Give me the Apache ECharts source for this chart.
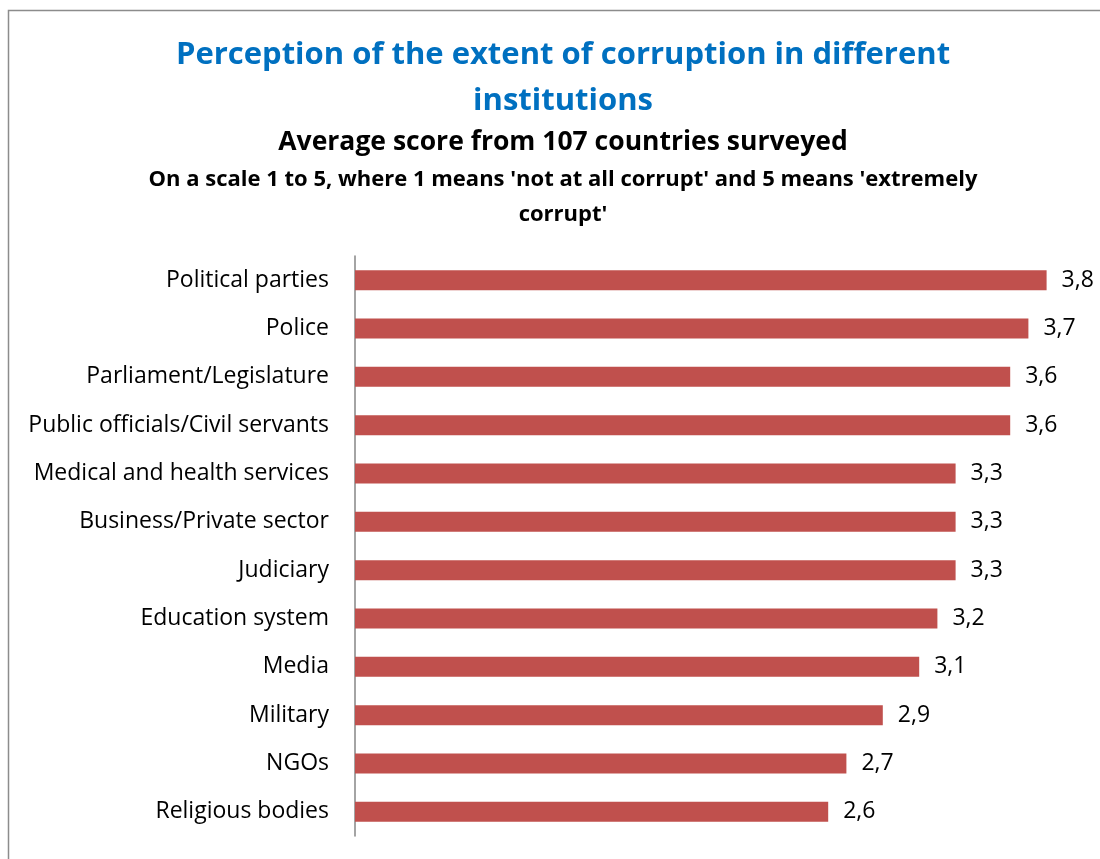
<!DOCTYPE html>
<html>
<head>
<meta charset="utf-8">
<script src="https://cdn.jsdelivr.net/npm/echarts@6/dist/echarts.min.js"></script>
<style>html,body{margin:0;padding:0;background:#fff;}#c{width:1100px;height:859px;}</style>
</head>
<body>
<div id="c"></div>
<script>
var categories = ["Political parties","Police","Parliament/Legislature","Public officials/Civil servants","Medical and health services","Business/Private sector","Judiciary","Education system","Media","Military","NGOs","Religious bodies"];
var scores = [3.8,3.7,3.6,3.6,3.3,3.3,3.3,3.2,3.1,2.9,2.7,2.6];
var titleLines = ["Perception of the extent of corruption in different","institutions"];
var subtitle = "Average score from 107 countries surveyed";
var noteLines = ["On a scale 1 to 5, where 1 means 'not at all corrupt' and 5 means 'extremely","corrupt'"];

var chart = echarts.init(document.getElementById('c'), null, {renderer:'canvas'});
var font = '"Open Sans", sans-serif';
chart.setOption({
  animation:false,
  backgroundColor:'#fff',
  graphic:[
    {type:'rect', left:6, top:8, shape:{x:0,y:0,width:1200,height:900}, style:{fill:'none', stroke:'#8c8c8c', lineWidth:1.5}, silent:true}
  ],
  title:[
    {text:titleLines.join('\n'), left:558, top:27, textAlign:'center',
     textStyle:{color:'#0070C0', fontFamily:font, fontWeight:'bold', fontSize:31, lineHeight:46}},
    {text:subtitle, left:558, top:124, textAlign:'center',
     textStyle:{color:'#000', fontFamily:font, fontWeight:'bold', fontSize:26.5}},
    {text:noteLines.join('\n'), left:558, top:157, textAlign:'center',
     textStyle:{color:'#000', fontFamily:font, fontWeight:'bold', fontSize:22, lineHeight:35}}
  ],
  grid:{left:355, top:256, width:728, height:580, containLabel:false},
  xAxis:{type:'value', min:0, max:4, show:false},
  yAxis:{type:'category', data:categories, inverse:true,
    axisLine:{show:true, lineStyle:{color:'#868686', width:1.5}},
    axisTick:{show:false},
    axisLabel:{color:'#000', fontFamily:font, fontSize:23, margin:26, padding:[3,0,0,0]}},
  series:[{type:'bar', data:scores, barWidth:20,
    itemStyle:{color:'#C0504D'},
    label:{show:true, position:'right', distance:15, color:'#000', fontFamily:font, fontSize:23, padding:[3,0,0,0],
      formatter:function(p){return p.value.toFixed(1).replace('.',',');}}}]
});
</script>
</body>
</html>
